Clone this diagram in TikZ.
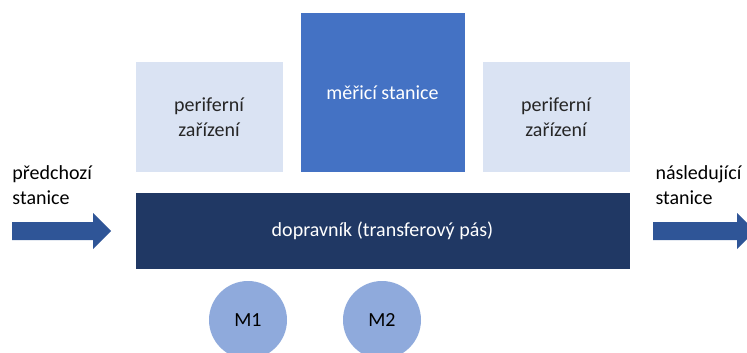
\documentclass[tikz,border=0pt]{standalone}
\usepackage{fontspec}
\setmainfont{Carlito}

\definecolor{periphfill}{RGB}{218,227,243}
\definecolor{stationfill}{RGB}{68,114,196}
\definecolor{conveyorfill}{RGB}{32,56,100}
\definecolor{motorfill}{RGB}{143,170,220}
\definecolor{arrowfill}{RGB}{47,85,151}
\definecolor{darktext}{RGB}{38,38,38}

\tikzset{every picture/.style={line width=0.75pt}}
\tikzset{
  labeltext/.style={font=\fontsize{15}{18.5}\selectfont, align=center},
  periphbox/.style={labeltext, fill=periphfill, text=darktext, anchor=north west, inner sep=0pt, minimum width=110.25pt, minimum height=82.5pt},
  stationbox/.style={labeltext, fill=stationfill, text=white, anchor=north west, inner sep=0pt, minimum width=123pt, minimum height=119.25pt},
  conveyorbox/.style={labeltext, fill=conveyorfill, text=white, anchor=north west, inner sep=0pt, minimum width=370.5pt, minimum height=57pt},
  motor/.style={labeltext, circle, fill=motorfill, text=black, inner sep=0pt, minimum size=58.5pt},
  sidetext/.style={labeltext, align=left, text=black, anchor=west, inner sep=0pt}
}

\begin{document}
\begin{tikzpicture}[x=0.75pt,y=0.75pt,yscale=-1,xscale=1]
        \useasboundingbox (0,0) rectangle (747,353);

        % Peripheral devices and measuring station
        \node [periphbox] (periphleft) at (135,62) {periferní\\zařízení};
        \node [stationbox] (station) at (300,13) {měřicí stanice};
        \node [periphbox] (periphright) at (482,62) {periferní\\zařízení};

        % Conveyor
        \node [conveyorbox] (conveyor) at (135,192) {dopravník (transferový pás)};

        % Motors
        \node [motor] (motorone) at (248,320) {M1};
        \node [motor] (motortwo) at (382,320) {M2};

        % Text Node
        \node [sidetext] (prevstation) at (12,185) {předchozí\\stanice};
        % Text Node
        \node [sidetext] (nextstation) at (655,185) {následující\\stanice};

        % Block arrows
        \fill [arrowfill] (12,222) -- (93,222) -- (93,213) -- (111,231) -- (93,249) -- (93,240) -- (12,240) -- cycle;
        \fill [arrowfill] (653,222) -- (737,222) -- (737,213) -- (755,231) -- (737,249) -- (737,240) -- (653,240) -- cycle;
\end{tikzpicture}
\end{document}
